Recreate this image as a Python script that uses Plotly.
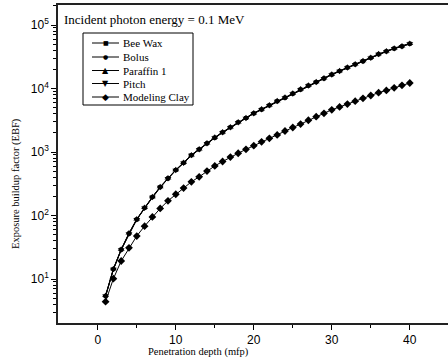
import plotly.graph_objects as go

depth = list(range(1, 41))

bee_wax = [5.4, 14.3, 29, 52, 87, 132, 195, 280, 385, 520,
           675, 890, 1100, 1370, 1680, 2040, 2450, 2940, 3430, 4070,
           4680, 5430, 6310, 7160, 8320, 9660, 11100, 12600, 14450, 16600,
           18800, 21400, 24000, 26900, 30500, 34700, 38500, 42700, 46200, 50700]
bolus = [5.3, 14.1, 28.6, 51, 86, 130, 193, 276, 380, 515,
         668, 880, 1090, 1355, 1665, 2020, 2425, 2910, 3400, 4030,
         4640, 5380, 6250, 7100, 8250, 9580, 11000, 12500, 14300, 16450,
         18650, 21200, 23800, 26700, 30200, 34400, 38200, 42300, 45800, 50200]
paraffin_1 = [5.5, 14.5, 29.4, 52.8, 88, 134, 197, 283, 390, 526,
              683, 900, 1112, 1385, 1700, 2065, 2480, 2975, 3470, 4120,
              4740, 5500, 6390, 7250, 8420, 9780, 11230, 12750, 14620, 16800,
              19030, 21650, 24300, 27250, 30900, 35100, 39000, 43200, 46800, 51300]
pitch = [5.4, 14.2, 28.8, 51.5, 86.5, 131, 194, 278, 383, 518,
         672, 885, 1095, 1362, 1672, 2030, 2438, 2925, 3415, 4050,
         4660, 5405, 6280, 7130, 8285, 9620, 11050, 12550, 14380, 16520,
         18720, 21300, 23900, 26800, 30350, 34550, 38350, 42500, 46000, 50450]
modeling_clay = [4.4, 10.1, 19.2, 31, 47.5, 68, 95, 129, 170, 216,
                 270, 339, 407, 500, 603, 708, 832, 955, 1100, 1260,
                 1445, 1640, 1860, 2140, 2430, 2750, 3160, 3600, 4070, 4620,
                 5130, 5690, 6310, 7000, 7760, 8610, 9330, 10230, 11220, 12200]

series_names = ["Bee Wax", "Bolus", "Paraffin 1", "Pitch", "Modeling Clay"]
series_values = [bee_wax, bolus, paraffin_1, pitch, modeling_clay]
series_symbols = ["square", "circle", "triangle-up", "triangle-down", "diamond"]
series_sizes = [4, 4, 6, 6, 6]
legend_glyphs = ["\u25A0", "\u25CF", "\u25B2", "\u25BC", "\u25C6"]
legend_glyph_sizes = [6, 6, 8, 8, 9]

y_tickvals = [10, 100, 1000, 10000, 100000]
y_ticktext = ["10<sup>1</sup>", "10<sup>2</sup>", "10<sup>3</sup>", "10<sup>4</sup>", "10<sup>5</sup>"]
x_tickvals = [0, 10, 20, 30, 40]

W, H = 448, 364
ML, MR, MT, MB = 58, 0, 5, 41
PW, PH = W - ML - MR, H - MT - MB


def px(xp):
    return (xp - ML) / PW


def py(yp):
    return 1 - (yp - MT) / PH


serif = "Liberation Serif, Times New Roman, serif"
sans = "Liberation Sans, Arial, sans-serif"

fig = go.Figure()
for name, vals, sym, sz in zip(series_names, series_values, series_symbols, series_sizes):
    fig.add_trace(go.Scatter(
        x=depth, y=vals, name=name, mode="lines+markers",
        line=dict(color="black", width=1),
        marker=dict(symbol=sym, size=sz, color="black"),
        showlegend=False,
    ))

annotations = [
    dict(text="Incident photon energy = 0.1 MeV", xref="paper", yref="paper",
         x=px(62), y=py(20), xanchor="left", yanchor="middle", showarrow=False,
         font=dict(family=serif, size=13, color="black")),
    dict(text="Penetration depth (mfp)", xref="paper", yref="paper",
         x=px(198), y=py(352), xanchor="center", yanchor="middle", showarrow=False,
         font=dict(family=serif, size=10.5, color="black")),
    dict(text="Exposure buildup factor (EBF)", xref="paper", yref="paper",
         x=px(16), y=py(184), xanchor="center", yanchor="middle",
         textangle=-90, showarrow=False,
         font=dict(family=serif, size=10.5, color="black")),
]
shapes = [
    dict(type="rect", xref="paper", yref="paper", x0=px(83), x1=px(193),
         y0=py(105), y1=py(33), line=dict(color="black", width=1), fillcolor="white",
         layer="above"),
]
row_y = [43, 57, 70.5, 83.5, 97]
for i, name in enumerate(series_names):
    yy = py(row_y[i])
    shapes.append(dict(type="line", xref="paper", yref="paper", x0=px(92), x1=px(119),
                       y0=yy, y1=yy, line=dict(color="black", width=1), layer="above"))
    annotations.append(dict(text=legend_glyphs[i], xref="paper", yref="paper",
                            x=px(105.5), y=yy, xanchor="center", yanchor="middle",
                            showarrow=False,
                            font=dict(family="DejaVu Sans", size=legend_glyph_sizes[i], color="black")))
    annotations.append(dict(text=name, xref="paper", yref="paper",
                            x=px(120.5), y=yy, xanchor="left", yanchor="middle",
                            showarrow=False,
                            font=dict(family=serif, size=11, color="black")))

fig.update_layout(
    width=W, height=H,
    margin=dict(l=ML, r=MR, t=MT, b=MB, autoexpand=False),
    paper_bgcolor="white", plot_bgcolor="white",
    showlegend=False,
    annotations=annotations,
    shapes=shapes,
    hovermode=False,
)

fig.update_xaxes(
    range=[-5.1, 44.9], tickvals=x_tickvals, ticks="outside", ticklen=5, tickwidth=1.2,
    tickcolor="black", showline=True, linecolor="#222", linewidth=1.5, mirror=True,
    showgrid=False, zeroline=False,
    tickfont=dict(family=sans, size=12, color="black"),
    minor=dict(tickvals=[5, 15, 25, 35], ticks="outside", ticklen=3, tickcolor="black", tickwidth=1),
)
fig.update_yaxes(
    type="log", range=[0.307, 5.315], tickvals=y_tickvals, ticktext=y_ticktext,
    ticks="outside", ticklen=5, tickwidth=1.2, tickcolor="black",
    showline=True, linecolor="#222", linewidth=1.5, mirror=False,
    showgrid=False, zeroline=False,
    tickfont=dict(family=sans, size=12, color="black"),
    minor=dict(ticks="outside", ticklen=3, tickcolor="black", tickwidth=1, dtick="D1"),
)

fig.write_html("out.html", config={"displayModeBar": False})

with open("out.html", "r", encoding="utf-8") as f:
    html = f.read()
html = html.replace("<head>", "<head><style>html,body{margin:0;padding:0;overflow:hidden;}</style>", 1)
with open("out.html", "w", encoding="utf-8") as f:
    f.write(html)
